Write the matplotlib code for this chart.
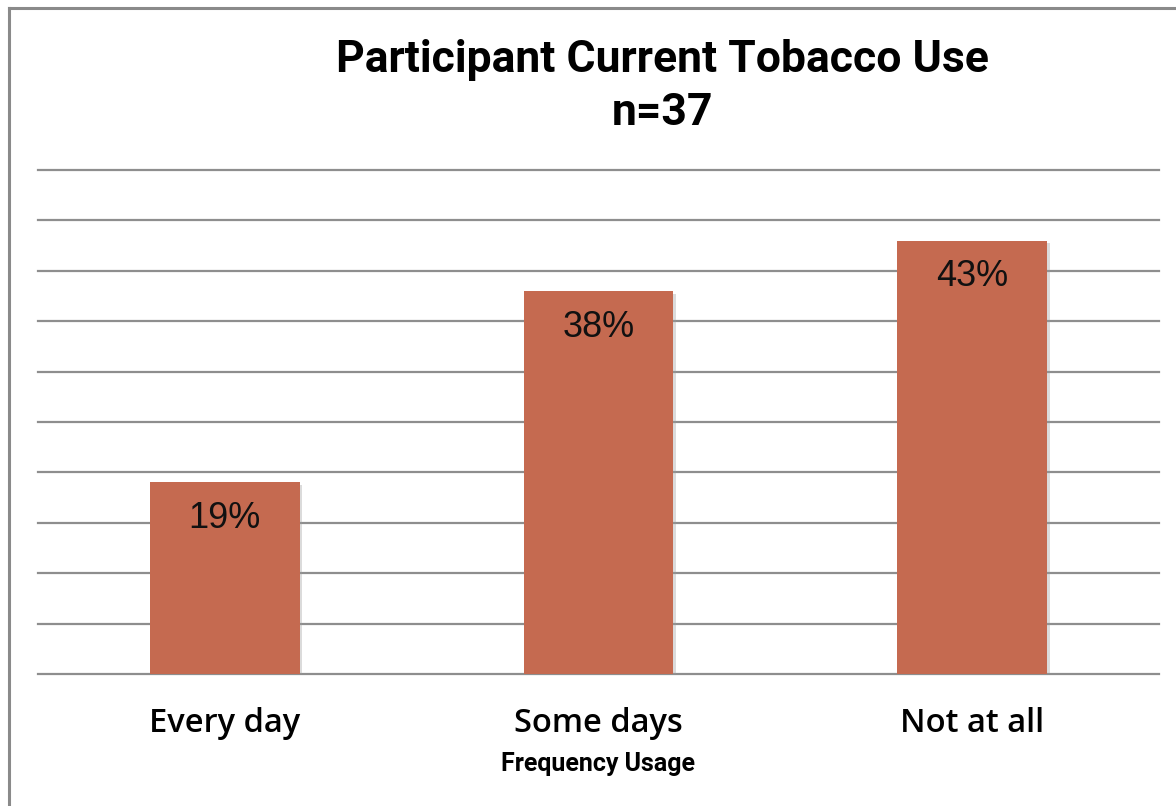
import matplotlib
matplotlib.use("Agg")
import matplotlib.pyplot as plt
import matplotlib.patheffects as pe
from matplotlib.lines import Line2D

categories = ["Every day", "Some days", "Not at all"]
percentages = [19, 38, 43]
value_labels = ["19%", "38%", "43%"]
title_lines = ["Participant Current Tobacco Use", "n=37"]
x_title = "Frequency Usage"

W, H = 1176, 806
fig = plt.figure(figsize=(W / 100, H / 100), dpi=100)
fig.patch.set_facecolor("white")

ax = fig.add_axes([38 / W, 1 - 674 / H, (1159 - 38) / W, (674 - 170) / H])
ax.set_xlim(-0.5, len(categories) - 0.5)
ax.set_ylim(0, 50)

# horizontal gridlines every 5%
for yv in range(0, 51, 5):
    ax.axhline(yv, color="#8e8e8e", lw=1.6, zorder=1, clip_on=False)

bar_color = "#C56A50"
bars = ax.bar(range(len(categories)), percentages, width=0.40, color=bar_color,
              zorder=3, linewidth=0)
for b in bars:
    b.set_path_effects([pe.SimplePatchShadow(offset=(2, -2), shadow_rgbFace="#9a9a9a", alpha=0.35),
                        pe.Normal()])

for i, (v, lab) in enumerate(zip(percentages, value_labels)):
    ax.annotate(lab, (i, v), xytext=(0, -26), textcoords="offset points",
                ha="center", va="center", fontsize=26, color="#111111",
                family="Liberation Sans", zorder=4)

for s in ax.spines.values():
    s.set_visible(False)
ax.set_yticks([])
ax.set_xticks(range(len(categories)))
ax.set_xticklabels(categories, fontsize=23.5, family="Open Sans", fontweight="semibold",
                   color="black")
ax.tick_params(axis="x", length=0, pad=24)

fig.text(598 / W, 1 - 764 / H, x_title, ha="center", va="center",
         fontsize=18, fontweight="bold", family="Roboto")
fig.text(662 / W, 1 - 60 / H, title_lines[0], ha="center", va="center",
         fontsize=32, fontweight="bold", family="Roboto")
fig.text(662 / W, 1 - 113 / H, title_lines[1], ha="center", va="center",
         fontsize=32, fontweight="bold", family="Roboto")

# frame around the chart area
fig.add_artist(Line2D([8.5 / W, 8.5 / W], [1 - 7.5 / H, 0], transform=fig.transFigure,
                      color="#8a8a8a", lw=2.2))
fig.add_artist(Line2D([8.5 / W, 1], [1 - 7.5 / H, 1 - 7.5 / H], transform=fig.transFigure,
                      color="#8a8a8a", lw=2.2))

fig.savefig("out.png", dpi=100, facecolor="white")
